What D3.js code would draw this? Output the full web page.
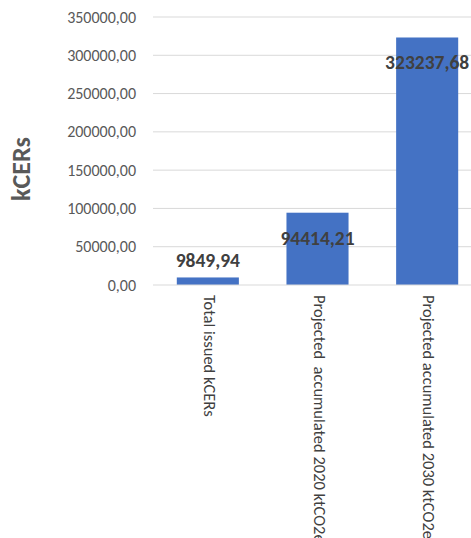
<!DOCTYPE html>
<html><head><meta charset="utf-8">
<script src="https://cdn.jsdelivr.net/npm/d3@7"></script>
<style>
html,body{margin:0;padding:0;background:#fff;}
svg{display:block;font-family:Carlito,Calibri,Lato,sans-serif;}
</style></head>
<body>
<svg id="c" width="471" height="538"></svg>
<script>
const categories = ["Total issued kCERs", "Projected  accumulated 2020 ktCO2e", "Projected accumulated 2030 ktCO2e"];
const values = [9849.94, 94414.21, 323237.68];
const yTicks = [0, 50000, 100000, 150000, 200000, 250000, 300000, 350000];
const yTitle = "kCERs";

(function () {
const svg = d3.select("#c");
const mLeft = 153, mRight = 482, mTop = 17, mBottom = 285;
const x = d3.scaleBand().domain(categories).range([mLeft, mRight]).paddingInner(0.434).paddingOuter(0.217);
const y = d3.scaleLinear().domain([0, 350000]).range([mBottom, mTop]);
const fmt = v => d3.format(".2f")(v).replace(".", ",");

// gridlines
svg.append("g").selectAll("line").data(yTicks.filter(t => t > 0)).join("line")
  .attr("x1", mLeft).attr("x2", 471).attr("y1", d => y(d)).attr("y2", d => y(d))
  .attr("stroke", "#d9d9d9").attr("stroke-width", 1);

// y tick labels
svg.append("g").selectAll("text").data(yTicks).join("text")
  .attr("x", 136).attr("y", d => y(d)).attr("dy", "0.35em")
  .attr("text-anchor", "end").attr("font-size", 16).attr("fill", "#595959")
  .text(fmt);

// bars
svg.append("g").selectAll("rect").data(values).join("rect")
  .attr("x", (d, i) => x(categories[i])).attr("width", x.bandwidth())
  .attr("y", d => y(d)).attr("height", d => y(0) - y(d))
  .attr("fill", "#4472C4");

// axis line
svg.append("line").attr("x1", mLeft).attr("x2", 471).attr("y1", y(0)).attr("y2", y(0))
  .attr("stroke", "#d9d9d9").attr("stroke-width", 1.2);

// value labels
svg.append("g").selectAll("text").data(values).join("text")
  .attr("x", (d, i) => x(categories[i]) + x.bandwidth() / 2)
  .attr("y", d => (y(0) - y(d) > 40 ? y(d) + 32 : y(d) - 10))
  .attr("text-anchor", "middle").attr("font-size", 19.5).attr("font-weight", "bold")
  .attr("fill", "#404040").text(fmt);

// category labels (rotated)
svg.append("g").selectAll("text").data(categories).join("text")
  .attr("transform", d => `translate(${x(d) + x.bandwidth() / 2},${mBottom + 10}) rotate(90)`)
  .attr("dominant-baseline", "middle").attr("text-anchor", "start")
  .attr("font-size", 16.5).attr("fill", "#404040").style("white-space", "pre")
  .text(d => d);

// y title
svg.append("text").attr("transform", `translate(24,${(mTop + mBottom) / 2 + 18}) rotate(-90)`)
  .attr("text-anchor", "middle").attr("dominant-baseline", "middle")
  .attr("font-size", 26).attr("font-weight", "bold").attr("fill", "#595959")
  .text(yTitle);
})();
</script>
</body></html>
